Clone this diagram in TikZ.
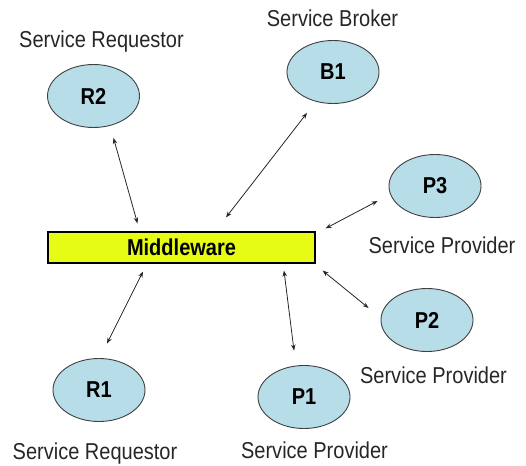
\documentclass[tikz,border=0pt]{standalone}
\usepackage{fontspec}
\setmainfont{Liberation Sans}[FakeStretch=0.87]
\usetikzlibrary{arrows, shapes, positioning, shapes.geometric, arrows.meta, calc}
\definecolor{svcblue}{RGB}{183,221,232}
\definecolor{mwyellow}{RGB}{230,252,20}

\begin{document}
\begin{tikzpicture}[x=1pt, y=-1pt,
			svc/.style={ellipse,
				draw=black!75,
				fill=svcblue,
				line width=0.9pt,
				minimum width=92pt,
				minimum height=63pt,
				inner sep=0,
				font=\fontsize{23}{27}\selectfont\bfseries},
			mw/.style={rectangle,
				draw=black,
				fill=mwyellow,
				line width=1.2pt,
				minimum width=267pt,
				minimum height=31pt,
				inner sep=0,
				font=\fontsize{23}{27}\selectfont\bfseries},
			role/.style={anchor=base, inner sep=0,
				text=black!85,
				font=\fontsize{23}{27}\selectfont},
			link/.style={{Stealth[length=6pt,width=4.5pt]}-{Stealth[length=6pt,width=4.5pt]},
				line width=0.8pt, draw=black!85}]

			\useasboundingbox (0,0) rectangle (526,465);

			\node[mw] at (181.5,247.5) (mw){Middleware};

			\node[svc] at (93.5,96) (R2){R2};
			\node[svc] at (333,72) (B1){B1};
			\node[svc] at (435,186) (P3){P3};
			\node[svc] at (427,320) (P2){P2};
			\node[svc] at (304,397) (P1){P1};
			\node[svc] at (99,390) (R1){R1};

			% roles
			\node[role] at (101.5,48) (lR2){Service Requestor};
			\node[role] at (332.5,27) (lB1){Service Broker};
			\node[role] at (442,253) (lP3){Service Provider};
			\node[role] at (433.5,383) (lP2){Service Provider};
			\node[role] at (314.5,458) (lP1){Service Provider};
			\node[role] at (95,459.5) (lR1){Service Requestor};

			% links to the middleware
			\draw[link] ([xshift=20pt,yshift=-10pt]R2.south) -- ([xshift=-44pt,yshift=8pt]mw.north);
			\draw[link] ([xshift=-26pt,yshift=-9pt]B1.south) -- ([xshift=44.5pt,yshift=14pt]mw.north);
			\draw[link] ([xshift=-11pt,yshift=-15pt]P3.west) -- ([xshift=10pt,yshift=3pt]mw.north east);
			\draw[link] ([xshift=8pt,yshift=14.5pt]R1.north) -- ([xshift=-38.5pt,yshift=-8pt]mw.south);
			\draw[link] ([xshift=-10pt,yshift=14.5pt]P1.north) -- ([xshift=102.5pt,yshift=-7pt]mw.south);
			\draw[link] ([xshift=-12pt,yshift=12pt]P2.west) -- ([xshift=7pt,yshift=-7pt]mw.south east);
		\end{tikzpicture}
\end{document}
